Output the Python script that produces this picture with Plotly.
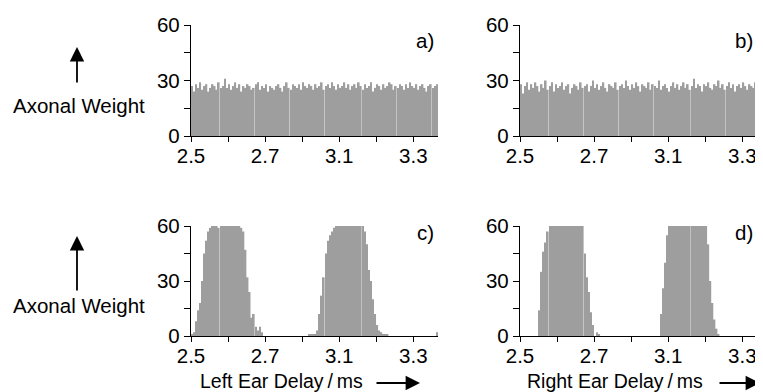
import plotly.graph_objects as go

# ---------------- data ----------------
# bar index (each bar is one delay bin); tick labels are placed on bin positions
bins = list(range(120))
x_tick_pos = [0, 18, 36, 54, 72, 90, 108, 126]
x_tick_text = ["2.5", "", "2.7", "", "3.1", "", "3.3", ""]
y_tick_pos = [0, 15, 30, 45, 60]
y_tick_text = ["0", "", "30", "", "60"]

weights_a = [27, 24, 28, 26, 29, 25, 27, 28, 24, 26,
             28, 27, 25, 29, 26, 27, 31, 26, 28, 25,
             27, 29, 26, 28, 24, 27, 26, 28, 27, 25,
             26, 28, 29, 25, 27, 26, 28, 24, 27, 26,
             25, 27, 28, 26, 24, 27, 29, 26, 25, 28,
             27, 26, 28, 25, 29, 27, 26, 28, 27, 25,
             28, 26, 27, 29, 25, 27, 28, 26, 29, 27,
             25, 28, 26, 27, 29, 26, 28, 25, 27, 28,
             26, 29, 27, 25, 28, 26, 27, 29, 24, 26,
             28, 27, 25, 28, 26, 27, 29, 28, 25, 27,
             26, 28, 27, 25, 28, 26, 29, 27, 26, 28,
             25, 27, 28, 26, 24, 27, 28, 26, 27, 28]

weights_b = [28, 23, 27, 29, 25, 28, 26, 29, 27, 24,
             28, 26, 30, 25, 27, 29, 24, 28, 26, 27,
             29, 25, 27, 28, 23, 26, 28, 27, 25, 29,
             26, 27, 28, 24, 27, 30, 26, 28, 25, 27,
             29, 26, 24, 28, 27, 26, 29, 25, 27, 28,
             26, 30, 27, 25, 28, 26, 29, 27, 24, 28,
             27, 26, 29, 25, 28, 27, 26, 30, 25, 27,
             28, 26, 24, 27, 29, 26, 28, 25, 27, 29,
             26, 28, 25, 27, 31, 26, 28, 27, 24, 28,
             27, 29, 26, 25, 28, 27, 30, 26, 28, 25,
             27, 29, 26, 28, 24, 27, 28, 26, 29, 27,
             25, 28, 27, 26, 29, 24, 28, 27, 25, 28]

weights_c = [1, 2, 8, 14, 18, 30, 45, 52, 57, 59,
             60, 60, 60, 59, 60, 60, 60, 60, 60, 60,
             60, 60, 60, 60, 59, 57, 47, 32, 24, 10,
             12, 5, 3, 5, 2, 0, 0, 0, 0, 0,
             0, 0, 0, 0, 0, 0, 0, 0, 0, 0,
             0, 0, 0, 0, 0, 0, 0, 1, 1, 1,
             1, 3, 12, 22, 32, 45, 52, 55, 57, 59,
             60, 60, 60, 60, 60, 60, 60, 60, 60, 60,
             60, 60, 60, 60, 57, 50, 36, 30, 20, 12,
             6, 3, 2, 1, 1, 1, 0, 0, 0, 0,
             0, 0, 0, 0, 0, 0, 0, 0, 0, 0,
             0, 0, 0, 0, 0, 0, 0, 0, 0, 2]

weights_d = [0, 0, 0, 0, 0, 0, 0, 0, 0, 14,
             35, 46, 51, 57, 60, 60, 60, 60, 60, 60,
             60, 60, 60, 60, 60, 60, 60, 60, 60, 60,
             60, 45, 32, 24, 13, 6, 0, 2, 1, 0,
             0, 0, 0, 0, 0, 0, 0, 0, 0, 0,
             0, 0, 0, 0, 0, 0, 0, 0, 0, 0,
             0, 0, 0, 0, 0, 0, 0, 0, 12, 26,
             40, 55, 60, 60, 60, 60, 60, 60, 60, 60,
             60, 60, 60, 60, 60, 60, 60, 60, 60, 60,
             60, 50, 30, 18, 9, 4, 1, 0, 0, 0,
             0, 0, 0, 0, 0, 0, 0, 0, 0, 0,
             0, 0, 0, 0, 0, 0, 0, 0, 0, 0]

panel_labels = ["a)", "b)", "c)", "d)"]

# ---------------- figure ----------------
# the page body has an 8px margin, so the figure is sized to fit the window
OFF = 8
W, H = 763 - OFF, 392 - OFF
FONT = "Liberation Sans, Arial, Helvetica, sans-serif"
FS = 20.5
FS_TITLE = 19.5
BAR = "#9e9e9e"


def px(x):
    return (x - OFF) / W


def py(y):
    return 1 - (y - OFF) / H


fig = go.Figure()
series = [weights_a, weights_b, weights_c, weights_d]
axes = [("x", "y"), ("x2", "y2"), ("x3", "y3"), ("x4", "y4")]
for vals, (xa, ya) in zip(series, axes):
    fig.add_trace(go.Bar(x=[b + 0.5 for b in bins], y=vals, xaxis=xa, yaxis=ya,
                         marker=dict(color=BAR, line=dict(width=0)),
                         width=0.8, showlegend=False, hoverinfo="skip"))

scale = 247 / 120.0  # pixels per bin
left_dom = [px(191), px(438)]
right_dom = [px(520), 1.0]
right_range = [0, (763 - 520) / scale]
top_dom = [py(136), py(25)]
bot_dom = [py(336), py(226)]

xcommon = dict(showline=True, linecolor="black", linewidth=1.3, ticks="outside",
               ticklen=5, tickwidth=1.2, tickcolor="black", tickmode="array",
               tickvals=x_tick_pos, ticktext=x_tick_text, showgrid=False,
               zeroline=False, tickfont=dict(family=FONT, size=FS, color="black"),
               ticklabelstandoff=-4, fixedrange=True, automargin=False)
ycommon = dict(showline=True, linecolor="black", linewidth=1.3, ticks="outside",
               ticklen=6, tickwidth=1.2, tickcolor="black", tickmode="array",
               tickvals=y_tick_pos, ticktext=y_tick_text, range=[0, 60],
               showgrid=False, zeroline=False, automargin=False,
               tickfont=dict(family=FONT, size=FS, color="black"), fixedrange=True)

fig.update_layout(
    width=W, height=H, margin=dict(l=0, r=0, t=0, b=0, pad=0), autosize=False,
    paper_bgcolor="white", plot_bgcolor="white", bargap=0.2,
    xaxis=dict(xcommon, domain=left_dom, range=[0, 120], anchor="y"),
    yaxis=dict(ycommon, domain=top_dom, anchor="x"),
    xaxis2=dict(xcommon, domain=right_dom, range=right_range, anchor="y2"),
    yaxis2=dict(ycommon, domain=top_dom, anchor="x2"),
    xaxis3=dict(xcommon, domain=left_dom, range=[0, 120], anchor="y3"),
    yaxis3=dict(ycommon, domain=bot_dom, anchor="x3"),
    xaxis4=dict(xcommon, domain=right_dom, range=right_range, anchor="y4"),
    yaxis4=dict(ycommon, domain=bot_dom, anchor="x4"),
)

ann = []
# panel letters
for lab, (x, y) in zip(panel_labels, [(425, 40), (744, 40), (425, 232), (744, 232)]):
    ann.append(dict(text=lab, x=px(x), y=py(y), xref="paper", yref="paper",
                    showarrow=False, xanchor="center", yanchor="middle",
                    font=dict(family=FONT, size=FS, color="black")))
# y titles
for ty in (105, 305):
    ann.append(dict(text="Axonal Weight", x=px(79), y=py(ty), xref="paper", yref="paper",
                    showarrow=False, xanchor="center", yanchor="middle",
                    font=dict(family=FONT, size=FS, color="black")))
# vertical arrows
for top, bot in ((47, 84), (236, 292)):
    ann.append(dict(text="", x=px(77), y=py(top), xref="paper", yref="paper",
                    ax=0, ay=bot - top, showarrow=True, arrowhead=2, arrowsize=1.6,
                    arrowwidth=1.8, arrowcolor="black", standoff=0, startstandoff=0))
# x titles
ann.append(dict(text="Left Ear Delay\u2009/\u2009ms", x=px(281), y=py(381),
                xref="paper", yref="paper", showarrow=False, xanchor="center",
                yanchor="middle", font=dict(family=FONT, size=FS_TITLE, color="black")))
ann.append(dict(text="Right Ear Delay\u2009/\u2009ms", x=px(615), y=py(381),
                xref="paper", yref="paper", showarrow=False, xanchor="center",
                yanchor="middle", font=dict(family=FONT, size=FS_TITLE, color="black")))
# horizontal arrows
for tail, head in ((375, 420), (718, 760)):
    ann.append(dict(text="", x=px(head), y=py(383), xref="paper", yref="paper",
                    ax=tail - head, ay=0, showarrow=True, arrowhead=2, arrowsize=1.6,
                    arrowwidth=1.8, arrowcolor="black", standoff=0, startstandoff=0))

fig.update_layout(annotations=ann)
fig.write_html("out.html")
